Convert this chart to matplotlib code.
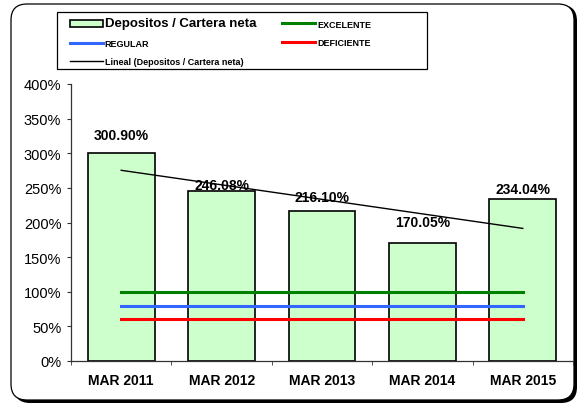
import numpy as np
import matplotlib
matplotlib.use("Agg")
import matplotlib.pyplot as plt
from matplotlib.patches import FancyBboxPatch, Patch, Rectangle
from matplotlib.lines import Line2D
from matplotlib.ticker import FuncFormatter, FixedLocator
from matplotlib.transforms import IdentityTransform

plt.rcParams["font.family"] = ["Liberation Sans", "DejaVu Sans"]

# ---------- data ----------
periods = ["MAR 2011", "MAR 2012", "MAR 2013", "MAR 2014", "MAR 2015"]
ratio = [300.90, 246.08, 216.10, 170.05, 234.04]          # Depositos / Cartera neta, %
excelente = [100, 100, 100, 100, 100]
regular = [80, 80, 80, 80, 80]
deficiente = [60, 60, 60, 60, 60]
label_y = [326, 254, 237, 201, 248]                        # where the value labels sit (manual, as in the source)

W, H = 578, 406
fig = plt.figure(figsize=(W / 100, H / 100), dpi=100)
ax = fig.add_axes([71 / W, 1 - 362 / H, (573 - 71) / W, (362 - 85) / H])
ax.patch.set_alpha(0)

# rounded chart frame with a drop shadow on the bottom/right
r = 16
fig.patches.append(FancyBboxPatch((14, 2), 563, 398, boxstyle=f"round,pad=0,rounding_size={r}",
                                  transform=IdentityTransform(), fc="black", ec="black", lw=0, zorder=-3))
fig.patches.append(FancyBboxPatch((11, 5), 563, 396, boxstyle=f"round,pad=0,rounding_size={r}",
                                  transform=IdentityTransform(), fc="white", ec="black", lw=0.9, zorder=-2))

x = np.arange(len(periods))
ax.bar(x, ratio, width=0.667, color="#CCFFCC", edgecolor="black", lw=1.2, zorder=2)
ax.plot(x, excelente, color="#008000", lw=2.2, zorder=3)
ax.plot(x, regular, color="#3366FF", lw=2.2, zorder=3)
ax.plot(x, deficiente, color="#FF0000", lw=2.2, zorder=3)
k, b = np.polyfit(x, ratio, 1)                             # Excel "Lineal" trendline
ax.plot(x, k * x + b, color="black", lw=1.0, zorder=4)

for xi, v, ly in zip(x, ratio, label_y):
    ax.text(xi, ly, f"{v:.2f}%", ha="center", va="center", fontsize=10, fontweight="bold", zorder=5)

ax.set_xlim(-0.5, len(periods) - 0.5)
ax.set_ylim(0, 400)
ax.set_yticks(np.arange(0, 401, 50))
ax.yaxis.set_major_formatter(FuncFormatter(lambda v, _: f"{v:.0f}%"))
ax.set_xticks(x)
ax.set_xticklabels(periods, fontsize=10, fontweight="bold")
ax.xaxis.set_minor_locator(FixedLocator(np.arange(-0.5, len(periods), 1.0)))
ax.tick_params(axis="x", which="major", length=0, pad=9)
ax.tick_params(axis="x", which="minor", length=3, direction="out", color="#333333")
ax.tick_params(axis="y", length=3, direction="out", pad=4, labelsize=10.5, color="#333333")
for s in ("top", "right"):
    ax.spines[s].set_visible(False)
for s in ("left", "bottom"):
    ax.spines[s].set_color("#333333")
    ax.spines[s].set_linewidth(0.9)

# legend: box drawn separately so its size matches the original
fig.patches.append(Rectangle((57, H - 70), 370, 57, transform=IdentityTransform(),
                             fc="white", ec="black", lw=0.9, zorder=-1))
handles = [Patch(fc="#CCFFCC", ec="black", lw=1.2),
           Line2D([], [], color="#3366FF", lw=2.2),
           Line2D([], [], color="black", lw=1.0),
           Line2D([], [], color="#008000", lw=2.2),
           Line2D([], [], color="#FF0000", lw=2.2)]
labels = ["Depositos / Cartera neta", "REGULAR", "Lineal (Depositos / Cartera neta)", "EXCELENTE", "DEFICIENTE"]
leg = fig.legend(handles, labels, loc="upper left", bbox_to_anchor=(70 / W, 1 - 18.5 / H), ncol=2,
                 frameon=False, prop={"size": 6.5, "weight": "bold"}, borderpad=0, borderaxespad=0,
                 handlelength=3.6, handleheight=0.7, handletextpad=0.25, columnspacing=2.9, labelspacing=1.05)
leg.get_texts()[0].set_fontsize(9.5)

fig.savefig("out.png", dpi=100)
